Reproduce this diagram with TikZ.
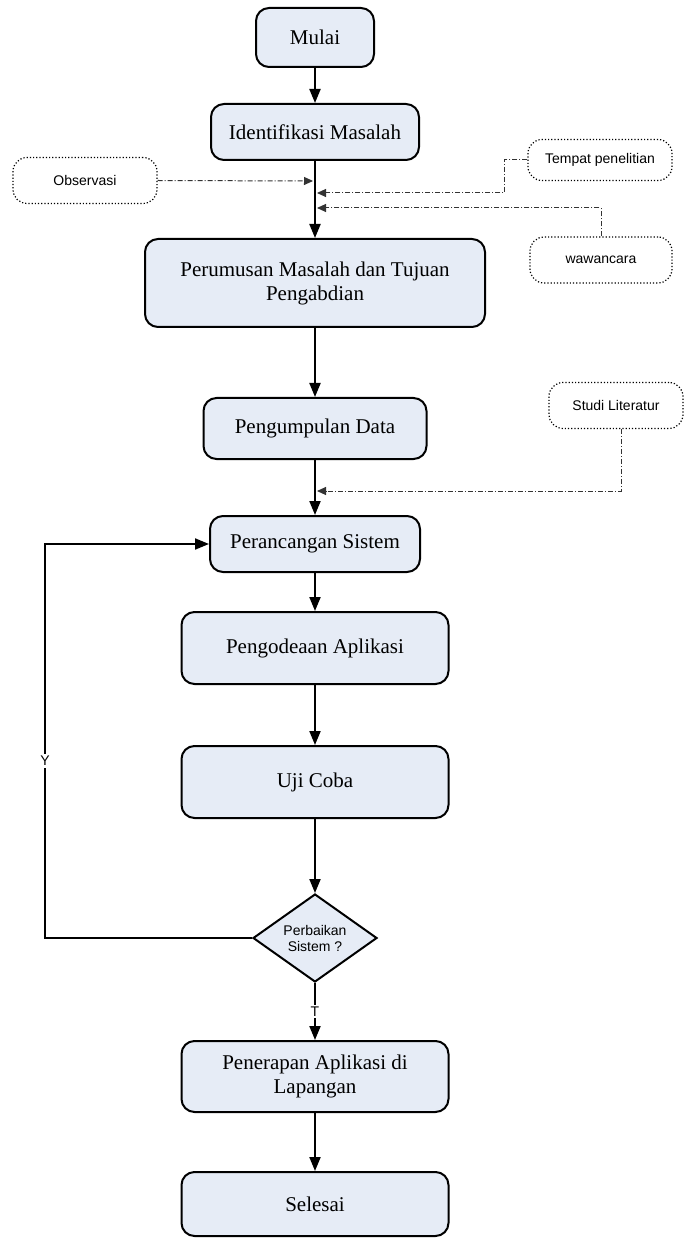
\documentclass[tikz,border=0pt]{standalone}
\usepackage{fontspec}
\setmainfont{Liberation Serif}
\setsansfont{Liberation Sans}
\usepackage{tikz}
\usepackage{xcolor}
\usetikzlibrary{shapes,arrows,arrows.meta,positioning}
\definecolor{boxblue}{RGB}{230,236,246}

\begin{document}
\begin{tikzpicture}[x=0.5pt, y=-0.5pt,
    proses/.style={draw, line width=1pt, fill=boxblue, rounded corners=6.5pt, align=center, font=\fontsize{10.5}{12}\selectfont, inner sep=2pt},
    catatan/.style={draw, densely dotted, line width=0.6pt, rounded corners=7pt, font=\sffamily\fontsize{7}{8}\selectfont, minimum width=72pt, minimum height=23pt},
    panah/.style={line width=1pt, -{Triangle[length=7pt, width=5.5pt]}},
    putus/.style={line width=0.5pt, draw=black!80, dash pattern=on 2.5pt off 1pt on 0.5pt off 1pt, -{Triangle[length=4.5pt, width=4pt]}},
    ket/.style={font=\sffamily\fontsize{7}{8}\selectfont, fill=white, inner sep=1pt}]

    \useasboundingbox (0,0) rectangle (684,1240);

        % Mulai
        \node [proses, minimum width=59pt, minimum height=29.5pt] (mulai) at (315,37.5) {Mulai};

        % Identifikasi Masalah
        \node [proses, minimum width=104pt, minimum height=28pt, below=17.5pt of mulai] (identifikasi) {Identifikasi Masalah};

        % Perumusan Masalah
        \node [proses, minimum width=170pt, minimum height=44pt, below=38.5pt of identifikasi] (perumusan) {Perumusan Masalah dan Tujuan\\Pengabdian};

        % Pengumpulan Data
        \node [proses, minimum width=111.5pt, minimum height=30.5pt, below=34.5pt of perumusan] (pengumpulan) {Pengumpulan Data};

        % Perancangan Sistem
        \node [proses, minimum width=105pt, minimum height=28pt, below=27.5pt of pengumpulan] (perancangan) {Perancangan Sistem};

        % Pengodeaan Aplikasi
        \node [proses, minimum width=133.5pt, minimum height=36pt, below=19pt of perancangan] (pengodean) {Pengodeaan Aplikasi};

        % Uji Coba
        \node [proses, minimum width=133.5pt, minimum height=36pt, below=30pt of pengodean] (ujicoba) {Uji Coba};

        % Perbaikan Sistem ?
        \node [draw, diamond, line width=1pt, fill=boxblue, align=center, inner sep=0pt, shape aspect=1.4, minimum width=62pt, minimum height=44pt, font=\sffamily\fontsize{7}{8}\selectfont, below=37pt of ujicoba] (keputusan) {Perbaikan\\Sistem ?};

        % Penerapan Aplikasi
        \node [proses, minimum width=133.5pt, minimum height=35.5pt, below=28.5pt of keputusan] (penerapan) {Penerapan Aplikasi di\\Lapangan};

        % Selesai
        \node [proses, minimum width=133.5pt, minimum height=32pt, below=29pt of penerapan] (selesai) {Selesai};

        % Masukan samping
        \node [catatan] (observasi) at (85,180.5) {Observasi};
        \node [catatan, minimum height=20.5pt] (tempat) at (600,160) {Tempat penelitian};
        \node [catatan, minimum width=71pt] (wawancara) at (601,260) {wawancara};
        \node [catatan, minimum width=67pt] (studi) at (616,405.5) {Studi Literatur};

        \coordinate (mObs) at (313,181);
        \coordinate (mTem) at (317,193);
        \coordinate (mWaw) at (317,208);
        \coordinate (mStu) at (317,491);

        % Alur utama
        \draw [panah] (mulai) -- (identifikasi);
        \draw [panah] (identifikasi) -- (perumusan);
        \draw [panah] (perumusan) -- (pengumpulan);
        \draw [panah] (pengumpulan) -- (perancangan);
        \draw [panah] (perancangan) -- (pengodean);
        \draw [panah] (pengodean) -- (ujicoba);
        \draw [panah] (ujicoba) -- (keputusan);
        \draw [panah] (keputusan) -- node [ket] {T} (penerapan);
        \draw [panah] (penerapan) -- (selesai);
        \draw [panah] (keputusan.west) -- ++(-207,0) |- node [pos=0.225, ket] {Y} (perancangan.west);

        % Garis putus-putus
        \draw [putus] (observasi.east) -- (mObs);
        \draw [putus] (tempat.west) -- ++(-23,0) |- (mTem);
        \draw [putus] (wawancara.north) |- (mWaw);
        \draw [putus] ([xshift=2.5pt]studi.south) |- (mStu);
    \end{tikzpicture}
\end{document}
